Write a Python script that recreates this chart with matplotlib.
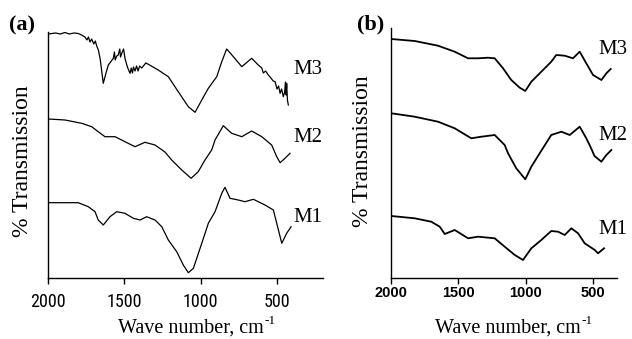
import numpy as np
import matplotlib
matplotlib.use("Agg")
import matplotlib.pyplot as plt
from matplotlib import font_manager

# panel (a) spectra, wave number (cm-1) vs transmission (arbitrary, offset)
a_m3_w = [1998, 1950, 1920, 1889, 1860, 1830, 1802, 1780, 1758, 1745, 1735, 1725, 1714, 1700, 1690, 1681,
          1670, 1659, 1638, 1620, 1605, 1590, 1572, 1565, 1560, 1550, 1540, 1530, 1525, 1513, 1505, 1496,
          1480, 1463, 1455, 1447, 1440, 1430, 1420, 1410, 1400, 1386, 1370, 1360, 1343, 1278, 1212, 1147,
          1081, 1037, 993, 950, 895, 862, 830, 786, 731, 666, 623, 600, 590, 575, 557, 540, 525, 513, 500,
          490, 480, 470, 459, 450, 445, 440, 437, 432, 426]
a_m3_t = [244, 245, 244, 245.5, 244, 245, 244.5, 243, 241, 238, 241, 236, 239, 234, 237, 232,
          228, 219.7, 194.7, 205, 213, 216, 219.7, 226, 218, 222, 223, 229, 221, 226.3, 229, 219.7,
          211, 204.7, 210, 205, 211, 207, 212, 207, 212, 210, 213, 215, 213.7, 208, 201.3, 186.3,
          171.3, 165.7, 178, 189.7, 201.3, 216.3, 229, 221.3, 211.3, 219.7, 213, 210, 205, 207, 203, 200, 197, 196.3, 189,
          192, 184.7, 189, 181.3, 186, 196, 183, 194.7, 178, 173]

a_m2_w = [1998, 1889, 1779, 1714, 1671, 1627, 1561, 1496, 1430, 1365, 1299, 1234, 1190, 1124, 1063, 1016,
          972, 928, 906, 852, 797, 731, 666, 600, 535, 502, 480, 448, 415]
a_m2_t = [159, 158, 154.7, 151.3, 146.3, 141.3, 141.3, 136.3, 131.3, 135.7, 133, 126, 118, 108, 99.7, 106.3,
          118, 128, 138, 152.3, 144.7, 141.3, 147, 141.3, 133, 121.3, 115.3, 119.7, 124.7]

a_m1_w = [1998, 1802, 1736, 1692, 1671, 1638, 1594, 1550, 1496, 1441, 1397, 1354, 1299, 1255, 1212, 1157,
          1114, 1081, 1048, 993, 950, 906, 862, 841, 808, 754, 710, 655, 579, 524, 502, 469, 437, 408]
a_m1_t = [75.3, 75.3, 71.3, 66.3, 58, 53, 61.3, 66.3, 64.7, 59.7, 58, 61.3, 58, 51.3, 38, 26.3,
          13, 5.3, 9.7, 34.7, 54.7, 66.3, 84.7, 90.7, 79.7, 78, 76.3, 78.7, 73, 68, 54.7, 34.7, 44.7, 51.3]

# panel (b) spectra
b_m3_w = [1998, 1824, 1651, 1527, 1428, 1354, 1280, 1230, 1168, 1107, 1044, 1003, 958, 884, 810, 773,
          710, 649, 599, 550, 500, 438, 401, 369]
b_m3_t = [239, 237, 232.3, 226.3, 219.7, 219.7, 220.3, 219.7, 209.7, 198, 190.3, 187, 196.3, 206.3, 216.3, 223,
          222.3, 219.7, 226.3, 214.7, 203, 198, 204.7, 209]

b_m2_w = [1998, 1824, 1651, 1527, 1404, 1329, 1230, 1156, 1131, 1070, 1003, 958, 884, 810, 735, 673,
          599, 550, 522, 489, 438, 401, 364]
b_m2_t = [164.7, 161.3, 156.3, 149.7, 139.7, 141.3, 143, 133, 124.7, 109.7, 98.7, 111.3, 127.3, 143, 146.3, 143,
          151.3, 139.7, 132, 122, 116.3, 123, 128]

b_m1_w = [1998, 1824, 1701, 1638, 1601, 1527, 1428, 1354, 1230, 1156, 1081, 1020, 958, 884, 810, 760,
          710, 661, 611, 562, 487, 463, 418]
b_m1_t = [62, 59.7, 56.3, 51.3, 44, 48, 39.7, 41.3, 39.7, 31.3, 23, 18, 29.7, 38, 47, 46.3,
          43, 49.7, 44.7, 34.7, 28, 24.7, 29.7]

xticks = [2000, 1500, 1000, 500]
series_names = ["M1", "M2", "M3"]

W, H = 632, 339
fig = plt.figure(figsize=(W / 100, H / 100), dpi=100)
serif = ["Liberation Serif", "DejaVu Serif"]

# condensed font for the (a) ticks if one is around
names = set(f.name for f in font_manager.fontManager.ttflist)
narrow = None
for cand in ["Liberation Sans Narrow", "DejaVu Sans Condensed", "Roboto Condensed", "Open Sans Condensed"]:
    if cand in names:
        narrow = cand
        break


def px(x, y):
    return x / W, 1 - y / H


def setup(ax, xlim, ylim):
    ax.set_xlim(*xlim)
    ax.set_ylim(*ylim)
    for s in ["top", "right"]:
        ax.spines[s].set_visible(False)
    ax.spines["left"].set_linewidth(1.0)
    ax.spines["bottom"].set_linewidth(1.0)
    ax.set_yticks([])
    ax.set_xticks(xticks)
    ax.tick_params(axis="x", direction="out", length=4, width=1.0)


# (a)
ax1 = fig.add_axes([48 / W, 61 / H, 275 / W, 246 / H])
setup(ax1, (2000, 199), (0, 246))
for w, t in [(a_m3_w, a_m3_t), (a_m2_w, a_m2_t), (a_m1_w, a_m1_t)]:
    ax1.plot(w, t, color="black", lw=0.9)
if narrow:
    ax1.set_xticklabels([str(v) for v in xticks], family=narrow, fontsize=13)
else:
    ax1.set_xticklabels([str(v) for v in xticks], family="DejaVu Sans", fontstretch="condensed",
                        fontsize=11.5)
ax1.tick_params(axis="x", pad=7)

# (b)
ax2 = fig.add_axes([391 / W, 61 / H, 226 / W, 250 / H])
setup(ax2, (2000, 322), (0, 250))
for w, t in [(b_m3_w, b_m3_t), (b_m2_w, b_m2_t), (b_m1_w, b_m1_t)]:
    ax2.plot(w, t, color="black", lw=1.3)
ax2.set_xticklabels([str(v) for v in xticks], family=["Liberation Sans", "DejaVu Sans"],
                    fontsize=10.5, fontweight="bold")
ax2.tick_params(axis="x", pad=2)

# labels
fig.text(*px(22, 25), "(a)", family=serif, fontsize=16, fontweight="bold", ha="center", va="center")
fig.text(*px(371, 24), "(b)", family=serif, fontsize=16, fontweight="bold", ha="center", va="center")
fig.text(*px(23, 161), "% Transmission", family=serif, fontsize=17, rotation=90, ha="center", va="center")
fig.text(*px(362, 151), "% Transmission", family=serif, fontsize=17, rotation=90, ha="center", va="center")

# x labels with a small raised "-1"
fig.canvas.draw()
r = fig.canvas.get_renderer()
for left, base in [(118, 333), (435, 333)]:
    t = fig.text(*px(left, base), "Wave number, cm", family=serif, fontsize=14.5, ha="left", va="baseline")
    bb = t.get_window_extent(renderer=r)
    fig.text(bb.x1 / W + 0.5 / W, 1 - (base - 9) / H, "-1", family=serif, fontsize=9.5,
             ha="left", va="baseline")

for name, y in zip(series_names, [218, 137, 70]):
    fig.text(*px(293, y), name, family=serif, fontsize=15, ha="left", va="center")
for name, y in zip(series_names, [230, 136, 50]):
    fig.text(*px(598, y), name, family=serif, fontsize=15, ha="left", va="center")

fig.savefig("out.png", dpi=100)
